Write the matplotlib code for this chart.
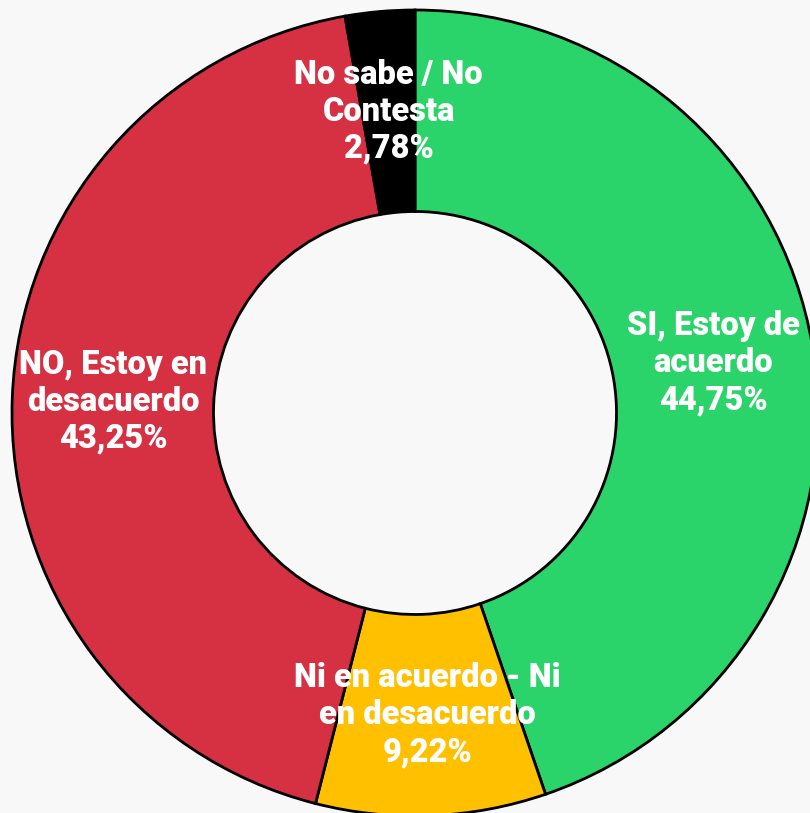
import matplotlib
matplotlib.use("Agg")
import matplotlib.pyplot as plt
import numpy as np

# ---- data (clockwise from 12 o'clock) -------------------------------------
LABELS = ["SI, Estoy de\nacuerdo",
          "Ni en acuerdo - Ni\nen desacuerdo",
          "NO, Estoy en\ndesacuerdo",
          "No sabe / No\nContesta"]
VALUES = [44.75, 9.22, 43.25, 2.78]
COLORS = ["#2BD46A", "#FFC000", "#D63043", "#000000"]

BG = "#F8F8F8"
W, H = 810, 813          # output size, px
CX, CY, R = 415, 413, 403  # ring centre / outer radius in px (ring is cropped)


def fmt(v):
    return f"{v:.2f}".replace(".", ",") + "%"


fig = plt.figure(figsize=(W / 100, H / 100), dpi=100, facecolor=BG)
ax = fig.add_axes([0, 0, 1, 1])
ax.set_facecolor(BG)

wedges, _ = ax.pie(VALUES, colors=COLORS, startangle=90, counterclock=False,
                   radius=1.0,
                   wedgeprops=dict(width=0.5, edgecolor="black", linewidth=2))

# labels sit in the middle of the ring
for w, lab, v in zip(wedges, LABELS, VALUES):
    ang = np.deg2rad((w.theta1 + w.theta2) / 2)
    x, y = 0.75 * np.cos(ang), 0.75 * np.sin(ang)
    ax.text(x, y, f"{lab}\n{fmt(v)}", ha="center", va="center",
            color="white", fontsize=23.5, fontweight=900,
            family=["Roboto", "DejaVu Sans"], linespacing=1.2, zorder=5)

ax.set_xlim(-CX / R, (W - CX) / R)
ax.set_ylim(-(H - CY) / R, CY / R)
ax.set_aspect("auto")
ax.axis("off")

fig.savefig("out.png", dpi=100, facecolor=BG)
